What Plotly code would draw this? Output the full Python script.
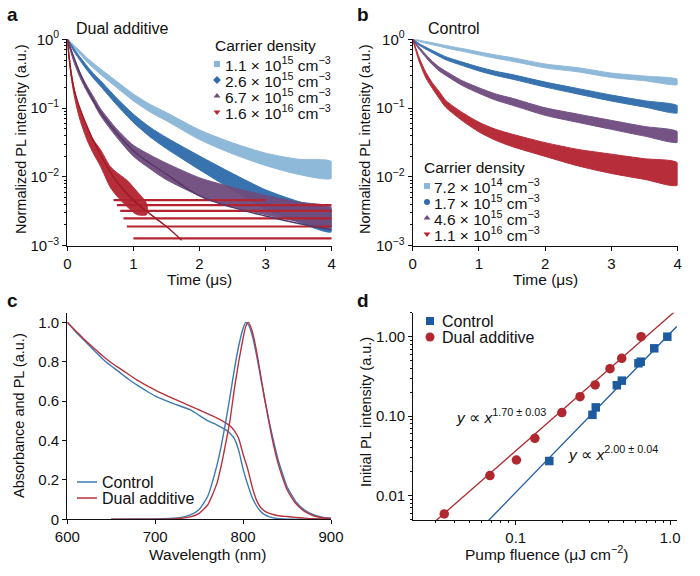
import plotly.graph_objects as go
import numpy as np

W, H = 700, 576
FONT = "Liberation Sans, Arial, Helvetica, sans-serif"

# ---------------- Panel a: Dual additive TRPL ----------------
t_a = [0, 0.05, 0.1, 0.2, 0.3, 0.4, 0.5, 0.75, 1.0, 1.25, 1.5, 2.0, 2.5, 3.0, 3.5, 4.0]
a_lightblue = [1, 0.88, 0.78, 0.63, 0.50, 0.41, 0.34, 0.22, 0.143, 0.10, 0.075, 0.041, 0.026, 0.018, 0.014, 0.0126]
a_blue = [1, 0.84, 0.70, 0.51, 0.38, 0.29, 0.23, 0.124, 0.071, 0.045, 0.031, 0.016, 0.0085, 0.0047, 0.0031, 0.0023]
a_purple = [1, 0.70, 0.50, 0.29, 0.19, 0.13, 0.088, 0.043, 0.024, 0.0166, 0.012, 0.0072, 0.0051, 0.0039, 0.0031, 0.0026]
a_lightblue_spread = [0.01, 0.015, 0.02, 0.025, 0.03, 0.035, 0.04, 0.045, 0.05, 0.055, 0.06, 0.07, 0.08, 0.09, 0.11, 0.12]
a_blue_spread = [0.01, 0.015, 0.02, 0.025, 0.03, 0.035, 0.04, 0.05, 0.06, 0.07, 0.08, 0.10, 0.12, 0.14, 0.15, 0.16]
a_purple_spread = [0.01, 0.02, 0.03, 0.035, 0.04, 0.045, 0.05, 0.06, 0.08, 0.10, 0.12, 0.13, 0.14, 0.14, 0.14, 0.14]
t_a_red = [0, 0.05, 0.1, 0.16, 0.2, 0.3, 0.4, 0.5, 0.65, 0.75, 0.9, 1.05, 1.2]
a_red = [1, 0.35, 0.18, 0.10, 0.075, 0.042, 0.027, 0.019, 0.010, 0.0078, 0.0058, 0.0042, 0.0034]
a_red_spread = [0.01, 0.03, 0.05, 0.06, 0.07, 0.09, 0.10, 0.12, 0.15, 0.17, 0.19, 0.17, 0.08]
# quantised low-count levels of the red trace
red_floor_levels = [0.00128, 0.0019, 0.0025, 0.0032, 0.0039, 0.0046]
red_floor_start = [1.0, 0.9, 0.85, 0.8, 0.75, 0.7]
red_floor_end = [4.0, 4.0, 4.0, 4.0, 4.0, 3.0]
# fit curves
fit_t_red = [0, 0.1, 0.25, 0.5, 0.75, 1.0, 1.25, 1.5, 1.73]
fit_red = [1, 0.19, 0.07, 0.021, 0.0085, 0.0046, 0.0029, 0.0019, 0.0012]
fit_t_purple = [0, 0.25, 0.5, 1.0, 1.5, 2.0, 2.5, 3.0, 3.5, 4.0]
fit_purple = [1, 0.24, 0.088, 0.024, 0.011, 0.0053, 0.0036, 0.0027, 0.0021, 0.0017]
a_labels = ["1.1 × 10<sup>15</sup> cm<sup>−3</sup>", "2.6 × 10<sup>15</sup> cm<sup>−3</sup>",
            "6.7 × 10<sup>15</sup> cm<sup>−3</sup>", "1.6 × 10<sup>16</sup> cm<sup>−3</sup>"]

# ---------------- Panel b: Control TRPL ----------------
t_b = [0, 0.05, 0.1, 0.2, 0.3, 0.4, 0.5, 0.75, 1.0, 1.25, 1.5, 2.0, 2.5, 3.0, 3.5, 4.0]
b_lightblue = [1, 0.98, 0.95, 0.90, 0.86, 0.82, 0.78, 0.70, 0.625, 0.56, 0.51, 0.41, 0.36, 0.30, 0.27, 0.24]
b_blue = [1, 0.91, 0.84, 0.74, 0.66, 0.59, 0.53, 0.44, 0.37, 0.32, 0.285, 0.22, 0.175, 0.14, 0.115, 0.096]
b_purple = [1, 0.85, 0.74, 0.57, 0.45, 0.37, 0.32, 0.23, 0.18, 0.145, 0.124, 0.089, 0.071, 0.057, 0.046, 0.038]
b_red = [1, 0.70, 0.50, 0.30, 0.21, 0.155, 0.115, 0.075, 0.053, 0.041, 0.034, 0.025, 0.019, 0.0155, 0.013, 0.011]
b_lightblue_spread = [0.005, 0.008, 0.01, 0.012, 0.014, 0.016, 0.018, 0.02, 0.022, 0.024, 0.026, 0.028, 0.03, 0.032, 0.034, 0.036]
b_blue_spread = [0.005, 0.01, 0.012, 0.015, 0.017, 0.02, 0.022, 0.025, 0.028, 0.03, 0.033, 0.036, 0.04, 0.043, 0.046, 0.05]
b_purple_spread = [0.005, 0.012, 0.015, 0.02, 0.024, 0.028, 0.03, 0.035, 0.04, 0.045, 0.05, 0.055, 0.06, 0.065, 0.07, 0.075]
b_red_spread = [0.01, 0.02, 0.03, 0.04, 0.04, 0.05, 0.05, 0.06, 0.07, 0.08, 0.09, 0.10, 0.12, 0.14, 0.15, 0.16]
b_labels = ["7.2 × 10<sup>14</sup> cm<sup>−3</sup>", "1.7 × 10<sup>15</sup> cm<sup>−3</sup>",
            "4.6 × 10<sup>15</sup> cm<sup>−3</sup>", "1.1 × 10<sup>16</sup> cm<sup>−3</sup>"]

# ---------------- Panel c: absorbance and PL ----------------
wl_abs = [600, 610, 620, 630, 640, 650, 660, 670, 680, 690, 700, 720, 740, 760, 770, 780, 785, 790,
          795, 800, 805, 810, 815, 820, 825, 830, 840, 850, 860, 870, 880, 890, 900]
abs_control = [1.0, 0.95, 0.905, 0.86, 0.815, 0.778, 0.745, 0.71, 0.68, 0.652, 0.626, 0.589, 0.555, 0.50,
               0.48, 0.455, 0.437, 0.41, 0.35, 0.255, 0.18, 0.115, 0.07, 0.04, 0.022, 0.012, 0.003, 0.0,
               0.0, 0.0, 0.0, 0.0, 0.0]
abs_dual = [1.0, 0.955, 0.91, 0.87, 0.83, 0.795, 0.765, 0.735, 0.705, 0.68, 0.656, 0.614, 0.575, 0.535,
            0.515, 0.49, 0.475, 0.45, 0.41, 0.33, 0.26, 0.17, 0.10, 0.06, 0.04, 0.03, 0.018, 0.014,
            0.010, 0.006, 0.003, 0.002, 0.0]
wl_pl = [650, 700, 720, 730, 740, 750, 760, 770, 775, 780, 785, 790, 795, 800, 803, 806, 810, 815, 820,
         825, 830, 835, 840, 845, 850, 860, 870, 880, 890, 900]
pl_control = [0.0, 0.002, 0.005, 0.01, 0.022, 0.05, 0.12, 0.27, 0.37, 0.49, 0.62, 0.76, 0.88, 0.97, 1.0,
              0.99, 0.94, 0.84, 0.72, 0.60, 0.49, 0.39, 0.30, 0.23, 0.165, 0.09, 0.047, 0.023, 0.011, 0.005]
pl_dual = [0.0, 0.0, 0.002, 0.005, 0.012, 0.03, 0.075, 0.18, 0.27, 0.38, 0.50, 0.66, 0.80, 0.92, 0.98,
           1.0, 0.96, 0.86, 0.73, 0.60, 0.48, 0.37, 0.28, 0.21, 0.15, 0.08, 0.04, 0.018, 0.008, 0.004]

# ---------------- Panel d: initial PL vs fluence ----------------
fluence_control = [0.165, 0.314, 0.33, 0.452, 0.487, 0.624, 0.646, 0.79, 0.96]
pl0_control = [0.0273, 0.104, 0.129, 0.245, 0.28, 0.463, 0.485, 0.714, 1.0]
fluence_dual = [0.0344, 0.068, 0.101, 0.133, 0.199, 0.261, 0.327, 0.408, 0.486, 0.649]
pl0_dual = [0.0059, 0.0179, 0.0281, 0.0527, 0.111, 0.176, 0.247, 0.396, 0.535, 1.0]
exp_dual, pref_dual = 1.70, 1.84
exp_control, pref_control = 2.00, 1.10
fit_x_dual = [0.03, 1.2]
fit_x_control = [0.06, 1.2]

# colours
C_LB, C_B, C_P, C_R = "#8cb6d9", "#2e6cab", "#6e4b7e", "#b42330"
C_RFIT, C_PFIT = "#9e1b27", "#553766"
C_CTRL_C, C_DUAL_C = "#3b79b3", "#b8323d"
C_CTRL_D, C_DUAL_D = "#1d5a9e", "#b0272e"

fig = go.Figure()


def band(t, v, s, color, xa, ya, opacity=0.95):
    t = np.array(t, float)
    v = np.array(v, float)
    s = np.array(s, float)
    up = v * 10 ** s
    lo = v / 10 ** s
    fig.add_trace(go.Scatter(x=np.concatenate([t, t[::-1]]).tolist(),
                             y=np.concatenate([up, lo[::-1]]).tolist(),
                             fill="toself", fillcolor=color, mode="lines",
                             line=dict(color=color, width=1.0, shape="spline", smoothing=0.7),
                             opacity=opacity, xaxis=xa, yaxis=ya, showlegend=False, hoverinfo="skip"))


# panel a
band(t_a, a_lightblue, a_lightblue_spread, C_LB, "x", "y")
band(t_a, a_blue, a_blue_spread, C_B, "x", "y")
band(t_a, a_purple, a_purple_spread, C_P, "x", "y")
for lev, t0, t1 in zip(red_floor_levels, red_floor_start, red_floor_end):
    fig.add_trace(go.Scatter(x=[t0, t1], y=[lev, lev], mode="lines", line=dict(color=C_R, width=2.2),
                             xaxis="x", yaxis="y", showlegend=False, hoverinfo="skip"))
band(t_a_red, a_red, a_red_spread, C_R, "x", "y")
fig.add_trace(go.Scatter(x=fit_t_purple, y=fit_purple, mode="lines",
                         line=dict(color=C_PFIT, width=1.4, shape="spline"), xaxis="x", yaxis="y",
                         showlegend=False))
fig.add_trace(go.Scatter(x=fit_t_red, y=fit_red, mode="lines",
                         line=dict(color=C_RFIT, width=1.5, shape="spline"), xaxis="x", yaxis="y",
                         showlegend=False))

# panel b
band(t_b, b_lightblue, b_lightblue_spread, C_LB, "x2", "y2")
band(t_b, b_blue, b_blue_spread, C_B, "x2", "y2")
band(t_b, b_purple, b_purple_spread, C_P, "x2", "y2")
band(t_b, b_red, b_red_spread, C_R, "x2", "y2")

# panel c
for xs, ys, col in [(wl_abs, abs_control, C_CTRL_C), (wl_abs, abs_dual, C_DUAL_C),
                    (wl_pl, pl_control, C_CTRL_C), (wl_pl, pl_dual, C_DUAL_C)]:
    fig.add_trace(go.Scatter(x=xs, y=ys, mode="lines", line=dict(color=col, width=1.4, shape="spline", smoothing=0.5),
                             xaxis="x3", yaxis="y3", showlegend=False))

# panel d
fx = np.array(fit_x_dual)
fig.add_trace(go.Scatter(x=fx.tolist(), y=(pref_dual * fx ** exp_dual).tolist(), mode="lines",
                         line=dict(color=C_DUAL_D, width=1.3), xaxis="x4", yaxis="y4", showlegend=False))
fx = np.array(fit_x_control)
fig.add_trace(go.Scatter(x=fx.tolist(), y=(pref_control * fx ** exp_control).tolist(), mode="lines",
                         line=dict(color=C_CTRL_D, width=1.3), xaxis="x4", yaxis="y4", showlegend=False))
fig.add_trace(go.Scatter(x=fluence_dual, y=pl0_dual, mode="markers",
                         marker=dict(symbol="circle", size=9.5, color=C_DUAL_D), xaxis="x4", yaxis="y4",
                         showlegend=False, cliponaxis=False))
fig.add_trace(go.Scatter(x=fluence_control, y=pl0_control, mode="markers",
                         marker=dict(symbol="square", size=8.5, color=C_CTRL_D), xaxis="x4", yaxis="y4",
                         showlegend=False, cliponaxis=False))

# ---------- legend keys on an overlay pixel axis ----------
def key(x, y, symbol, color, size):
    fig.add_trace(go.Scatter(x=[x], y=[y], mode="markers", marker=dict(symbol=symbol, size=size, color=color),
                             xaxis="x5", yaxis="y5", showlegend=False, hoverinfo="skip"))


a_syms = ["square", "diamond", "triangle-up", "triangle-down"]
b_syms = ["square", "circle", "triangle-up", "triangle-down"]
cols = [C_LB, C_B, C_P, C_R]
a_rows = [64, 80, 96, 112]
b_rows = [186, 202, 218, 234]
for i in range(4):
    key(217, a_rows[i], a_syms[i], cols[i], 6)
    key(427, b_rows[i], b_syms[i], cols[i], 6)
key(430, 321, "square", C_CTRL_D, 8)
key(430, 337, "circle", C_DUAL_D, 9)
for yy, col in [(482, C_CTRL_C), (498, C_DUAL_C)]:
    fig.add_trace(go.Scatter(x=[77, 97], y=[yy, yy], mode="lines", line=dict(color=col, width=1.5),
                             xaxis="x5", yaxis="y5", showlegend=False, hoverinfo="skip"))

# ---------- annotations ----------
ann = []


def txt(x, y, s, size=14, xanchor="left", yanchor="middle", angle=0, bold=False):
    ann.append(dict(x=x / W, y=1 - y / H, xref="paper", yref="paper", text=("<b>%s</b>" % s) if bold else s,
                    showarrow=False, xanchor=xanchor, yanchor=yanchor, textangle=angle,
                    font=dict(family=FONT, size=size, color="#111")))


txt(5, 15, "a", 19, bold=True)
txt(355, 15, "b", 19, bold=True)
txt(5, 300, "c", 19, bold=True)
txt(355, 300, "d", 19, bold=True)
txt(74, 28, "Dual additive", 16)
txt(426, 28, "Control", 16)
txt(213, 45, "Carrier density", 15.5)
txt(422, 167, "Carrier density", 15.5)
for i in range(4):
    txt(223, a_rows[i], a_labels[i], 15.5)
    txt(432, b_rows[i], b_labels[i], 15.5)
txt(100, 482, "Control", 16)
txt(100, 498, "Dual additive", 16)
txt(440, 321, "Control", 16)
txt(440, 337, "Dual additive", 16)
txt(454, 416, "<i>y</i> ∝ <i>x</i><sup>1.70 ± 0.03</sup>", 15.5)
txt(566, 453, "<i>y</i> ∝ <i>x</i><sup>2.00 ± 0.04</sup>", 15.5)
txt(21, 139, "Normalized PL intensity (a.u.)", 14.5, xanchor="center", angle=-90)
txt(365, 139, "Normalized PL intensity (a.u.)", 14.5, xanchor="center", angle=-90)
txt(199, 279, "Time (μs)", 15.5, xanchor="center")
txt(545, 279, "Time (μs)", 15.5, xanchor="center")
txt(19, 416, "Absorbance and PL (a.u.)", 14.5, xanchor="center", angle=-90)
txt(207, 554, "Wavelength (nm)", 15.5, xanchor="center")
txt(366, 412, "Initial PL intensity (a.u.)", 14.5, xanchor="center", angle=-90)
txt(546, 553, "Pump fluence (μJ cm<sup>−2</sup>)", 15.5, xanchor="center")

base = dict(showline=True, linecolor="#111", linewidth=1.2, ticks="outside", ticklen=4, tickwidth=1.2,
            tickcolor="#111", showgrid=False, zeroline=False, tickfont=dict(family=FONT, size=15, color="#111"),
            fixedrange=True, automargin=False)


def minor_vals(lo_exp, hi_exp):
    vals = []
    for e in range(lo_exp, hi_exp + 1):
        for m in range(2, 10):
            vals.append(m * 10.0 ** e)
    return vals


def minor(lo_exp, hi_exp):
    return dict(ticks="outside", ticklen=2, tickwidth=0.8, tickcolor="#111", showgrid=False,
                tickmode="array", tickvals=minor_vals(lo_exp, hi_exp))


ya_dom = [1 - 245.7 / H, 1 - 39.3 / H]
logy_ticks = dict(tickmode="array", tickvals=[1, 0.1, 0.01, 0.001],
                  ticktext=["10<sup>0</sup>", "10<sup>−1</sup>", "10<sup>−2</sup>", "10<sup>−3</sup>"])

fig.update_layout(
    width=W, height=H, margin=dict(l=0, r=0, t=0, b=0, pad=0, autoexpand=False),
    paper_bgcolor="white", plot_bgcolor="rgba(0,0,0,0)",
    showlegend=False, annotations=ann, font=dict(family=FONT, size=14, color="#111"),
    xaxis=dict(base, domain=[67.3 / W, 331.7 / W], range=[0, 4], anchor="y", tickmode="array",
               tickvals=[0, 1, 2, 3, 4]),
    yaxis=dict(base, domain=ya_dom, type="log", range=[-3, 0], anchor="x", minor=minor(-3, -1), **logy_ticks),
    xaxis2=dict(base, domain=[412.7 / W, 677.7 / W], range=[0, 4], anchor="y2", tickmode="array",
                tickvals=[0, 1, 2, 3, 4]),
    yaxis2=dict(base, domain=ya_dom, type="log", range=[-3, 0], anchor="x2", minor=minor(-3, -1), **logy_ticks),
    xaxis3=dict(base, domain=[67.3 / W, 331 / W], range=[600, 900], anchor="y3", tickmode="array",
                tickvals=[600, 700, 800, 900]),
    yaxis3=dict(base, domain=[1 - 519.3 / H, 1 - 312.7 / H], range=[0, 1.049], anchor="x3",
                tickmode="array", tickvals=[0, 0.2, 0.4, 0.6, 0.8, 1.0],
                ticktext=["0", "0.2", "0.4", "0.6", "0.8", "1.0"]),
    xaxis4=dict(base, domain=[413.3 / W, 676.7 / W], type="log", range=[-1.664, 0.043], anchor="y4",
                tickmode="array", tickvals=[0.1, 1.0], ticktext=["0.1", "1.0"], minor=minor(-2, 0)),
    yaxis4=dict(base, domain=[1 - 520 / H, 1 - 312.7 / H], type="log", range=[-2.306, 0.302], anchor="x4",
                tickmode="array", tickvals=[0.01, 0.1, 1.0], ticktext=["0.01", "0.10", "1.00"],
                minor=minor(-3, 0)),
    xaxis5=dict(domain=[0, 1], range=[0, W], visible=False, anchor="y5", fixedrange=True, automargin=False),
    yaxis5=dict(domain=[0, 1], range=[H, 0], visible=False, anchor="x5", fixedrange=True, automargin=False),
)

fig.write_html("out.html", config={"displayModeBar": False},
               post_script="document.body.style.margin='0';document.body.style.padding='0';")
